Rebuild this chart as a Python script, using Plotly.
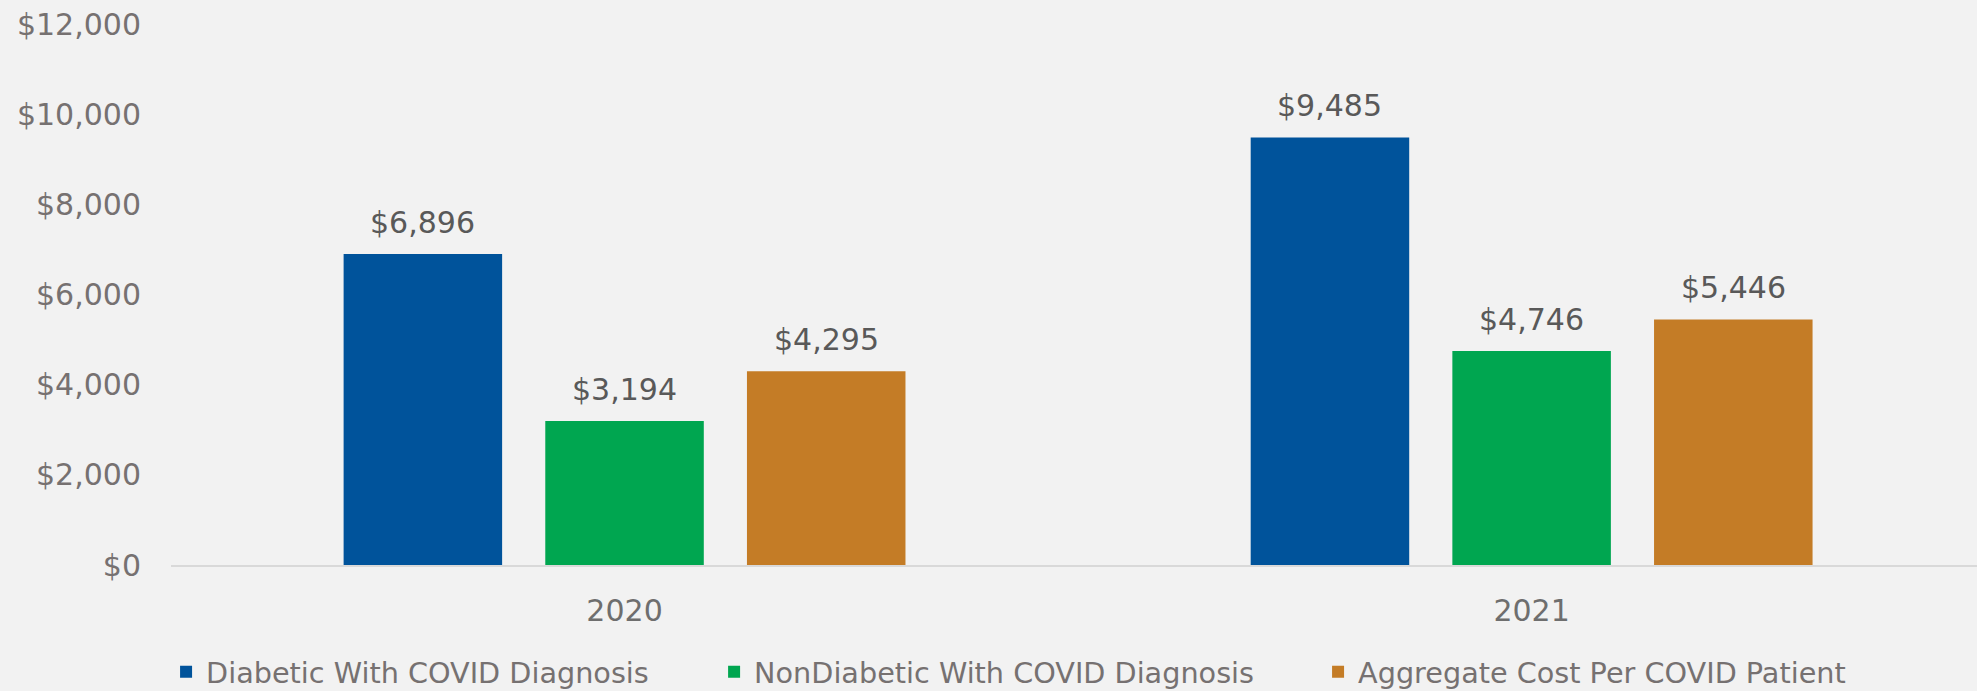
import plotly.graph_objects as go

years = ["2020", "2021"]
series_names = [
    "Diabetic With COVID Diagnosis",
    "NonDiabetic With COVID Diagnosis",
    "Aggregate Cost Per COVID Patient",
]
diabetic = [6896, 9485]
nondiabetic = [3194, 4746]
aggregate = [4295, 5446]
colors = ["#00539B", "#00A650", "#C47C26"]
y_ticks = [0, 2000, 4000, 6000, 8000, 10000, 12000]

FONT = "DejaVu Sans"
BARGAP = 0.333
GROUPGAP = 0.214
legend_ids = ["legend", "legend2", "legend3"]
legend_x = [0.0840, 0.3612, 0.6667]

fig = go.Figure()
all_series = [diabetic, nondiabetic, aggregate]
for name, vals, col, lg in zip(series_names, all_series, colors, legend_ids):
    fig.add_trace(go.Bar(
        x=years, y=vals, name=name, legend=lg,
        marker=dict(color=col, line=dict(width=0)),
        hoverinfo="x+y+name",
    ))

# data labels above each bar
n = len(all_series)
slot = (1 - BARGAP) / n
for i, vals in enumerate(all_series):
    for j, v in enumerate(vals):
        fig.add_annotation(
            x=j + (i - (n - 1) / 2) * slot, y=v, xref="x", yref="y",
            text=f"${v:,.0f}", showarrow=False, yanchor="bottom",
            yshift=12, font=dict(family=FONT, size=30, color="#595959"),
        )

legend_style = dict(
    orientation="h", xanchor="left", xref="container", yref="container",
    y=0.0275, yanchor="middle",
    font=dict(family=FONT, size=28.7, color="#767171"),
    bgcolor="rgba(0,0,0,0)",
)

fig.update_layout(
    width=1977, height=691,
    paper_bgcolor="#F2F2F2", plot_bgcolor="#F2F2F2",
    margin=dict(l=171, r=0, t=24, b=126),
    barmode="group", bargap=BARGAP, bargroupgap=GROUPGAP,
    font=dict(family=FONT, size=28, color="#767171"),
    showlegend=True,
    legend=dict(x=legend_x[0], **legend_style),
    legend2=dict(x=legend_x[1], **legend_style),
    legend3=dict(x=legend_x[2], **legend_style),
    xaxis=dict(
        type="category", range=[-0.5, 1.491],
        showline=True, linecolor="#D9D9D9", linewidth=2,
        showgrid=False, ticks="", ticklabelstandoff=18,
        tickfont=dict(family=FONT, size=30, color="#6E6E6E"),
    ),
    yaxis=dict(
        range=[0, 12000], tickvals=y_ticks, tickformat="$,.0f",
        showgrid=False, zeroline=False, showline=False, ticks="",
        ticklabelstandoff=29,
        tickfont=dict(family=FONT, size=30, color="#767171"),
    ),
)

fig.write_html(
    "out.html",
    config={"displayModeBar": False},
    post_script="document.body.style.margin='0px';document.body.style.overflow='hidden';",
)
